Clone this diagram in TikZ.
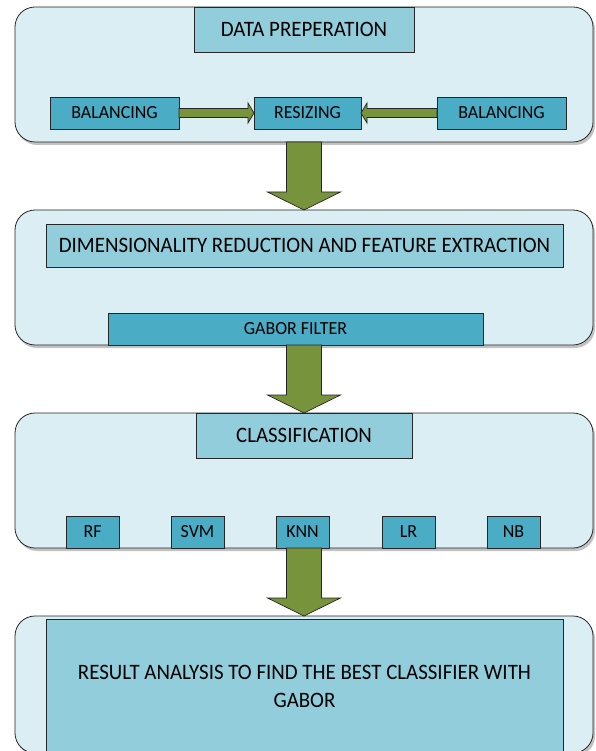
\documentclass[tikz,border=0pt]{standalone}
\usepackage{fontspec}
\setmainfont{Carlito}
\newfontfamily\headfont[FakeStretch=0.95]{Carlito}
\newfontfamily\subfont[FakeStretch=0.97]{Carlito}
\usetikzlibrary{calc,shadows}
\definecolor{panelfill}{HTML}{DAEEF3}
\definecolor{headfill}{HTML}{92CDDC}
\definecolor{subfill}{HTML}{4BACC6}
\definecolor{arrowgreen}{HTML}{77933C}
\tikzset{
  panel/.style={draw=black!85, line width=0.8pt, fill=panelfill, rounded corners=20pt,
    drop shadow={shadow xshift=2pt, shadow yshift=-3pt, opacity=0.4, fill=black!60}},
  headbox/.style={draw=black!85, line width=0.7pt, fill=headfill, inner sep=0pt, outer sep=0pt,
    font=\headfont\fontsize{22}{24}\selectfont},
  subbox/.style={draw=black!85, line width=0.7pt, fill=subfill, inner sep=0pt, outer sep=0pt,
    font=\subfont\fontsize{18.5}{21}\selectfont},
  bigarrow/.style={draw=black!85, line width=0.7pt, fill=arrowgreen},
  smallarrow/.style={draw=black!85, line width=0.7pt, fill=arrowgreen},
}
% box from (x1,y1) to (x2,y2) in pixel coordinates (y down)
\newcommand\pbox[7]{\node[#1, minimum width=#5-#3, minimum height=#6-#4] (#2) at ({(#3+#5)/2},{(#4+#6)/2}) {#7};}
\begin{document}
\begin{tikzpicture}[x=1pt,y=-1pt]
\useasboundingbox (0,0) rectangle (595,751);
\clip (0,0) rectangle (595,751);
% panels
\draw[panel] (15,7) rectangle (593,142);
\draw[panel] (15,210) rectangle (593,345);
\draw[panel] (15,413) rectangle (593,548);
\draw[panel] (15,616) rectangle (593,753);
\coordinate (p1s) at (304,142);
\coordinate (p2n) at (304,210);
\coordinate (p2s) at (304,345);
\coordinate (p3n) at (304,413);
\coordinate (p3s) at (304,548);
\coordinate (p4n) at (304,616);
% panel 1
\pbox{headbox}{dp}{194}{7}{414}{52}{DATA PREPERATION}
\pbox{subbox}{bal1}{50}{97}{179}{129}{BALANCING}
\pbox{subbox}{res}{254}{97}{361}{129}{RESIZING}
\pbox{subbox}{bal2}{437}{97}{566}{129}{BALANCING}
% panel 2
\pbox{headbox}{dim}{46}{224}{563}{267}{DIMENSIONALITY REDUCTION AND FEATURE EXTRACTION}
\pbox{subbox}{gab}{108}{313}{483}{345}{GABOR FILTER}
% panel 3
\pbox{headbox}{cls}{196}{413}{412}{458}{CLASSIFICATION}
\pbox{subbox}{rf}{66}{516}{119}{548}{RF}
\pbox{subbox}{svm}{171}{516}{224}{548}{SVM}
\pbox{subbox}{knn}{276}{516}{329}{548}{KNN}
\pbox{subbox}{lr}{382}{516}{435}{548}{LR}
\pbox{subbox}{nb}{487}{516}{540}{548}{NB}
% panel 4
\node[headbox, minimum width=517, minimum height=134, align=center,
  font=\headfont\fontsize{22}{28}\selectfont] (res4) at (304.5,686)
  {RESULT ANALYSIS TO FIND THE BEST CLASSIFIER WITH\\GABOR};
% small arrows
\filldraw[smallarrow] let \p1=(bal1.east), \p2=(res.west) in
  (\x1,\y1+4.5pt) -- (\x2-6pt,\y1+4.5pt) -- (\x2-6pt,\y1+10pt) -- (\x2,\y2) --
  (\x2-6pt,\y1-10pt) -- (\x2-6pt,\y1-4.5pt) -- (\x1,\y1-4.5pt) -- cycle;
\filldraw[smallarrow] let \p1=(bal2.west), \p2=(res.east) in
  (\x1,\y1+4.5pt) -- (\x2+6pt,\y1+4.5pt) -- (\x2+6pt,\y1+10pt) -- (\x2,\y2) --
  (\x2+6pt,\y1-10pt) -- (\x2+6pt,\y1-4.5pt) -- (\x1,\y1-4.5pt) -- cycle;
% big arrows
\foreach \a/\b in {p1s/p2n, p2s/p3n, p3s/p4n}{
\filldraw[bigarrow] let \p1=(\a), \p2=(\b) in
  (\x1-17.5pt,\y1) -- (\x1-17.5pt,\y2+18pt) -- (\x1-36.5pt,\y2+18pt) -- (\x2,\y2) --
  (\x1+36.5pt,\y2+18pt) -- (\x1+17.5pt,\y2+18pt) -- (\x1+17.5pt,\y1) -- cycle;
}
\end{tikzpicture}
\end{document}
